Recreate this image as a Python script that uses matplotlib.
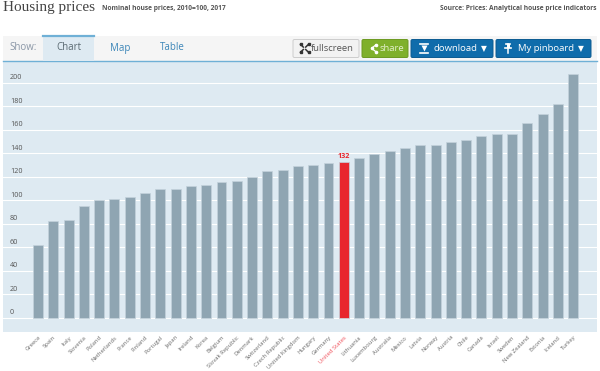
import matplotlib; matplotlib.use("Agg")
import matplotlib.pyplot as plt
from matplotlib.patches import Rectangle, FancyBboxPatch

countries = ["Greece", "Spain", "Italy", "Slovenia", "Poland", "Netherlands", "France", "Finland", "Portugal",
             "Japan", "Ireland", "Korea", "Belgium", "Slovak Republic", "Denmark", "Switzerland", "Czech Republic",
             "United Kingdom", "Hungary", "Germany", "United States", "Lithuania", "Luxembourg", "Australia",
             "Mexico", "Latvia", "Norway", "Austria", "Chile", "Canada", "Israel", "Sweden", "New Zealand",
             "Estonia", "Iceland", "Turkey"]
values = [62, 82, 83, 95, 100, 101, 103, 106, 109, 109.5, 112, 113, 115, 116.5, 120, 125, 125.5,
          129, 129.5, 131.5, 132, 136, 139.5, 141.5, 144, 147, 147, 149, 151.5, 154.5, 156.5, 156.5,
          165.5, 173, 182, 207]
yticks = [0, 20, 40, 60, 80, 100, 120, 140, 160, 180, 200]
highlight = "United States"

W, H = 600, 371
SANS = ["Open Sans", "DejaVu Sans"]
GREY = "#8fa5b2"
RED = "#e8262d"
PANEL = "#deeaf2"
BLUE = "#0f6cab"

fig = plt.figure(figsize=(6, 3.71), dpi=100, facecolor="white")

# chart panel, placed by pixels
ax = fig.add_axes([3 / W, 1 - 332 / H, 594 / W, 271 / H], facecolor=PANEL)
cols = [RED if c == highlight else GREY for c in countries]
ax.bar(range(len(countries)), values, width=0.65, color=cols, edgecolor="#c3d2dc", linewidth=0.5, zorder=3)
ax.set_xlim(-2.29, 36.56)
ax.set_ylim(-12.3, 218.3)
ax.set_yticks(yticks)
ax.set_yticklabels([])
ax.grid(axis="y", color="white", lw=0.8, zorder=1)
ax.tick_params(length=0)
for s in ax.spines.values():
    s.set_visible(False)
for v in yticks:
    ax.annotate(str(v), (0, v), xycoords=ax.get_yaxis_transform(), xytext=(5, 1), textcoords="offset points",
                fontsize=5.2, color="#555555", family=SANS, ha="left", va="bottom", zorder=4)
ax.set_xticks(range(len(countries)))
ax.set_xticklabels(countries, rotation=45, ha="right", va="top", rotation_mode="anchor",
                   fontsize=4.2, color="#6a6a6a", family=SANS)
ax.tick_params(axis="x", pad=2)
for lab, c in zip(ax.get_xticklabels(), countries):
    if c == highlight:
        lab.set_color("#f0505a")
i = countries.index(highlight)
ax.annotate(f"{values[i]:.0f}", (i, values[i]), xytext=(0, 1.5), textcoords="offset points", ha="center",
            va="bottom", fontsize=5.2, fontweight="bold", color=RED, family=SANS, zorder=4)

# page furniture in pixel coordinates
ui = fig.add_axes([0, 0, 1, 1], facecolor="none")
ui.set_xlim(0, W); ui.set_ylim(H, 0); ui.axis("off")
ui.text(3, 8, "Housing prices", fontsize=11, family="Liberation Serif", color="#444444", va="center", ha="left")
ui.text(102, 8.5, "Nominal house prices, 2010=100, 2017", fontsize=4.75, fontweight="bold", color="#555555",
        family=SANS, va="center")
ui.text(597, 8.5, "Source: Prices: Analytical house price indicators", fontsize=4.75, fontweight="bold",
        color="#555555", family=SANS, va="center", ha="right")

ui.add_patch(Rectangle((3, 36), 594, 24.5, fc="#f5f5f5", ec="none"))
ui.plot([3, 597], [60.5, 60.5], color="#6fb0d6", lw=1)
ui.add_patch(Rectangle((43, 36), 51, 25, fc=PANEL, ec="none", zorder=3))
ui.plot([43, 94], [36, 36], color="#6fb0d6", lw=1.6, zorder=4)
ui.text(9, 47, "Show:", fontsize=7, color="#8a96a6", family=SANS, va="center")
ui.text(68.5, 48, "Chart", fontsize=7, color="#5a6a72", family=SANS, va="center", ha="center", zorder=5)
ui.text(120.5, 48, "Map", fontsize=7, color="#3c86b8", family=SANS, va="center", ha="center")
ui.text(172.5, 48, "Table", fontsize=7, color="#3c86b8", family=SANS, va="center", ha="center")


def button(x0, x1, fc, ec, label, tx, color):
    ui.add_patch(FancyBboxPatch((x0, 39.5), x1 - x0, 18, boxstyle="round,pad=0,rounding_size=1.5",
                                fc=fc, ec=ec, lw=0.7, zorder=3))
    ui.text(tx, 48.3, label, fontsize=6.8, color=color, family=SANS, va="center", ha="left", zorder=4)


def arrow_down(x):
    ui.text(x, 48.3, "\u25bc", fontsize=5.5, color="white", family="DejaVu Sans", va="center", ha="center", zorder=4)


button(293, 359, "#f2f2f2", "#cccccc", "fullscreen", 311, "#555555")
button(362, 408, "#7fb02b", "#6c9a20", "share", 379, "#e4f0cc")
button(411, 493, BLUE, "#0b5b92", "download", 433, "white")
button(496, 591, BLUE, "#0b5b92", "My pinboard", 518, "white")
arrow_down(484)
arrow_down(581)

# small icons, no installed font has them
for sx, sy in [(-1, -1), (1, -1), (-1, 1), (1, 1)]:
    ui.plot([304.5 + sx * 1.2, 304.5 + sx * 4], [48.3 + sy * 1.2, 48.3 + sy * 4], color="#333333", lw=1.1, zorder=4)
    ui.plot(304.5 + sx * 4, 48.3 + sy * 4, "s", ms=1.6, color="#333333", zorder=4)
ui.plot([376, 371.5, 376], [44.8, 48.3, 51.8], color="white", lw=0.9, marker="o", ms=1.6, zorder=4)
ui.plot([419.5, 428], [43.5, 43.5], color="white", lw=1.2, zorder=4)
ui.plot([419.5, 428], [52.5, 52.5], color="white", lw=1.2, zorder=4)
ui.plot(423.8, 47.5, "v", ms=4.5, color="white", mec="none", zorder=4)
ui.plot([505, 511], [47.8, 47.8], color="white", lw=1.2, zorder=4)
ui.plot([506.3, 509.7], [44, 44], color="white", lw=1.2, zorder=4)
ui.plot([508, 508], [44, 53], color="white", lw=1.1, zorder=4)
ui.add_patch(Rectangle((506.5, 44), 3, 4, fc="white", ec="none", zorder=4))

fig.savefig("out.png", dpi=100)
